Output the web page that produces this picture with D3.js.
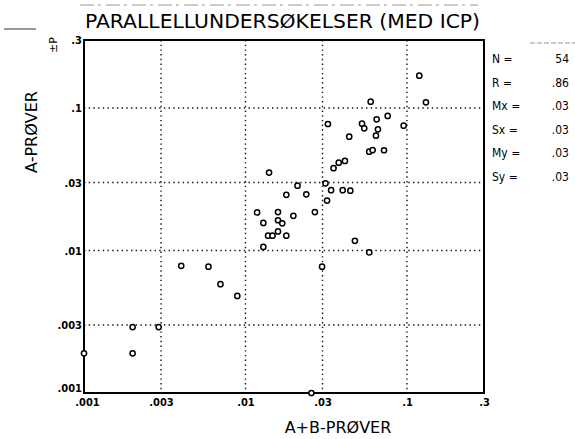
<!DOCTYPE html>
<html>
<head>
<meta charset="utf-8">
<script src="https://cdnjs.cloudflare.com/ajax/libs/d3/7.8.5/d3.min.js"></script>
<style>
  body { margin: 0; background: #fff; }
  svg { display: block; font-family: "DejaVu Sans", sans-serif; }
</style>
</head>
<body>
<div id="root"></div>
<script>
// A+B-prøver (x) mot A-prøver (y), begge log
var xVals = [0.0140, 0.0210, 0.0179, 0.0238, 0.0118, 0.0159, 0.0198, 0.0269, 0.0129, 0.0159,
             0.0169, 0.0138, 0.0147, 0.0159, 0.0179, 0.0129, 0.0040, 0.0059, 0.0070, 0.0089,
             0.0020, 0.0029, 0.0010, 0.0020, 0.0256, 0.0320, 0.0476, 0.0584, 0.0298, 0.1192,
             0.1311, 0.0596, 0.0324, 0.0527, 0.0544, 0.0649, 0.0760, 0.0661, 0.0643, 0.0954,
             0.0439, 0.0584, 0.0613, 0.0721, 0.0351, 0.0378, 0.0413, 0.0313, 0.0339, 0.0400,
             0.0446]
var yVals = [0.0352, 0.0285, 0.0246, 0.0248, 0.0185, 0.0186, 0.0175, 0.0186, 0.0156, 0.0163,
             0.0155, 0.0127, 0.0127, 0.0136, 0.0127, 0.0106, 0.0078, 0.0077, 0.0058, 0.0048,
             0.0029, 0.0029, 0.0019, 0.0019, 0.0010, 0.0224, 0.0117, 0.0097, 0.0077, 0.1685,
             0.1096, 0.1107, 0.0772, 0.0776, 0.0720, 0.0833, 0.0879, 0.0709, 0.0639, 0.0751,
             0.0629, 0.0494, 0.0507, 0.0505, 0.0378, 0.0413, 0.0425, 0.0296, 0.0265, 0.0265,
             0.0263]
var tickVals = [0.001, 0.003, 0.01, 0.03, 0.1, 0.3]
var tickLabels = ['.001', '.003', '.01', '.03', '.1', '.3']
var gridVals = [0.003, 0.01, 0.03, 0.1]
var statNames = ['N =', 'R =', 'Mx =', 'Sx =', 'My =', 'Sy =']
var statValues = ['54', '.86', '.03', '.03', '.03', '.03']

var W = 575, H = 439
var pLeft = 84, pRight = 484, pTop = 40, pBottom = 393
var condensed = '"DejaVu Sans Condensed", "DejaVu Sans", sans-serif'

var svg = d3.select('#root').append('svg').attr('width', W).attr('height', H)

var x = d3.scaleLog().domain([0.001, 0.3]).range([pLeft, pRight])
var y = d3.scaleLog().domain([0.001, 0.3]).range([pBottom, pTop])

// dotted grid
svg.append('g').selectAll('line').data(gridVals).enter().append('line')
    .attr('x1', function (d) { return x(d) }).attr('x2', function (d) { return x(d) })
    .attr('y1', pTop).attr('y2', pBottom)
    .attr('stroke', '#111').attr('stroke-width', 1.4).attr('stroke-dasharray', '1.4,3.3')
svg.append('g').selectAll('line').data(gridVals).enter().append('line')
    .attr('y1', function (d) { return y(d) }).attr('y2', function (d) { return y(d) })
    .attr('x1', pLeft).attr('x2', pRight)
    .attr('stroke', '#111').attr('stroke-width', 1.4).attr('stroke-dasharray', '1.4,3.3')

// frame
svg.append('rect')
    .attr('x', pLeft).attr('y', pTop).attr('width', pRight - pLeft).attr('height', pBottom - pTop)
    .attr('fill', 'none').attr('stroke', '#000').attr('stroke-width', 2)

// axes
var xAxis = d3.axisBottom(x).tickValues(tickVals).tickSize(0).tickPadding(5)
    .tickFormat(function (d, i) { return tickLabels[i] })
var gx = svg.append('g').attr('transform', 'translate(0,' + pBottom + ')').call(xAxis)
gx.select('.domain').remove()
gx.selectAll('text').attr('font-size', 11).attr('font-weight', 'bold').attr('fill', '#000')
    .attr('font-family', condensed)
    .attr('dx', function (d, i) { return i == 0 ? 3 : 0 })

var yAxis = d3.axisLeft(y).tickValues(tickVals).tickSize(0).tickPadding(2)
    .tickFormat(function (d, i) { return tickLabels[i] })
var gy = svg.append('g').attr('transform', 'translate(' + pLeft + ',0)').call(yAxis)
gy.select('.domain').remove()
gy.selectAll('text').attr('font-size', 11).attr('font-weight', 'bold').attr('fill', '#000')
    .attr('font-family', condensed)
    .attr('dy', function (d, i) { return i == 0 ? '-0.1em' : '0.32em' })

// points
svg.append('g').selectAll('circle').data(xVals).enter().append('circle')
    .attr('cx', function (d) { return x(d) })
    .attr('cy', function (d, i) { return y(yVals[i]) })
    .attr('r', 2.6)
    .attr('fill', '#fff').attr('stroke', '#000').attr('stroke-width', 1.5)

// title
svg.append('text')
    .attr('x', 85).attr('y', 28)
    .attr('textLength', 395).attr('lengthAdjust', 'spacingAndGlyphs')
    .attr('font-size', 20).attr('fill', '#000')
    .text('PARALLELLUNDERSØKELSER (MED  ICP)')

// axis titles
svg.append('text')
    .attr('x', 338).attr('y', 433).attr('text-anchor', 'middle')
    .attr('font-size', 16).attr('fill', '#000')
    .text('A+B-PRØVER')
svg.append('text')
    .attr('transform', 'translate(37,132) rotate(-90)').attr('text-anchor', 'middle')
    .attr('font-size', 16).attr('fill', '#000')
    .text('A-PRØVER')
svg.append('text')
    .attr('transform', 'translate(57,45) rotate(-90)').attr('text-anchor', 'middle')
    .attr('font-size', 11).attr('fill', '#000')
    .text('±P')

// stats
var stats = svg.append('g').selectAll('g').data(statNames).enter().append('g')
    .attr('transform', function (d, i) { return 'translate(0,' + (63 + i * 23.6) + ')' })
stats.append('text').attr('x', 492).attr('font-size', 12).attr('fill', '#000')
    .attr('font-family', condensed)
    .text(function (d) { return d })
stats.append('text').attr('x', 569).attr('text-anchor', 'end').attr('font-size', 12).attr('fill', '#000')
    .attr('font-family', condensed)
    .text(function (d, i) { return statValues[i] })

// scan marks
svg.append('line').attr('x1', 80).attr('x2', 478).attr('y1', 5).attr('y2', 5)
    .attr('stroke', '#999').attr('stroke-width', 1).attr('stroke-dasharray', '14,4,3,5')
svg.append('line').attr('x1', 4).attr('x2', 36).attr('y1', 29).attr('y2', 29)
    .attr('stroke', '#333').attr('stroke-width', 1)
svg.append('line').attr('x1', 530).attr('x2', 575).attr('y1', 43).attr('y2', 43)
    .attr('stroke', '#999').attr('stroke-width', 1).attr('stroke-dasharray', '5,2')
</script>
</body>
</html>
